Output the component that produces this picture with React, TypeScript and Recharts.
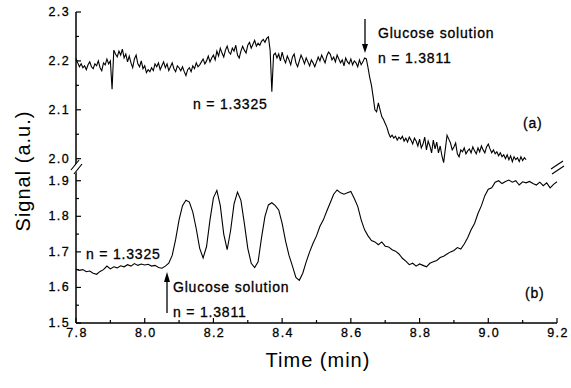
import { LineChart, Line, XAxis, YAxis } from "recharts";

const FONT = "'Liberation Sans', Arial, sans-serif";

// sampling grids of the two recordings (min)
const START = 7.8;
const STEP_A = 0.005;
const STEP_B = 0.01;

// (a) upper trace, 7.800 .. 9.110 min
const signalA = [
  2.205, 2.196, 2.188, 2.194, 2.186, 2.19, 2.182, 2.192, 2.198, 2.188,
  2.184, 2.194, 2.19, 2.2, 2.186, 2.18, 2.196, 2.192, 2.204, 2.194,
  2.2, 2.142, 2.222, 2.214, 2.208, 2.22, 2.212, 2.224, 2.206, 2.214,
  2.198, 2.21, 2.196, 2.186, 2.204, 2.212, 2.194, 2.188, 2.2, 2.184,
  2.19, 2.176, 2.182, 2.178, 2.186, 2.18, 2.194, 2.188, 2.196, 2.182,
  2.19, 2.198, 2.186, 2.194, 2.18, 2.188, 2.196, 2.184, 2.178, 2.19,
  2.186, 2.18, 2.188, 2.178, 2.17, 2.182, 2.186, 2.178, 2.19, 2.184,
  2.196, 2.188, 2.192, 2.198, 2.204, 2.194, 2.2, 2.21, 2.198, 2.206,
  2.212, 2.202, 2.22, 2.21, 2.226, 2.216, 2.208, 2.222, 2.23, 2.218,
  2.214, 2.226, 2.22, 2.232, 2.212, 2.206, 2.22, 2.23, 2.222, 2.216,
  2.232, 2.238, 2.226, 2.234, 2.242, 2.23, 2.236, 2.232, 2.24, 2.244,
  2.238, 2.246, 2.249, 2.222, 2.137, 2.212, 2.216, 2.206, 2.214, 2.2,
  2.218, 2.204, 2.196, 2.21, 2.202, 2.192, 2.208, 2.214, 2.196, 2.188,
  2.2, 2.212, 2.204, 2.194, 2.206, 2.198, 2.19, 2.202, 2.196, 2.188,
  2.198, 2.208, 2.2, 2.212, 2.204, 2.196, 2.21, 2.218, 2.214, 2.202,
  2.208, 2.198, 2.212, 2.204, 2.196, 2.202, 2.19, 2.206, 2.198, 2.194,
  2.204, 2.192, 2.2, 2.196, 2.188, 2.202, 2.192, 2.198, 2.206, 2.204,
  2.186, 2.166, 2.15, 2.126, 2.1, 2.096, 2.114, 2.1, 2.086, 2.08,
  2.072, 2.064, 2.052, 2.044, 2.048, 2.042, 2.046, 2.038, 2.044, 2.04,
  2.046, 2.036, 2.042, 2.034, 2.044, 2.038, 2.03, 2.042, 2.036, 2.026,
  2.04, 2.022, 2.03, 2.044, 2.018, 2.036, 2.026, 2.012, 2.038, 2.02,
  2.034, 2.012, 2.026, 2.006, 1.992, 2.02, 2.048, 2.04, 2.032, 2.018,
  2.024, 2.032, 2.01, 2.004, 2.018, 2.014, 2.022, 2.01, 2.016, 2.02,
  2.012, 2.024, 2.016, 2.01, 2.022, 2.014, 2.026, 2.018, 2.012, 2.024,
  2.03, 2.02, 2.012, 2.018, 2.01, 2.014, 2.006, 2.012, 2.004, 2.008,
  2.0, 2.008, 1.998, 2.006, 1.994, 2.004, 1.998, 2.002, 1.994, 2.004,
  1.996, 2.002, 1.998,
];

// (b) lower trace, 7.80 .. 9.20 min
const signalB = [
  1.652, 1.648, 1.65, 1.644, 1.646, 1.64, 1.637, 1.645, 1.65, 1.66,
  1.652, 1.658, 1.655, 1.661, 1.658, 1.664, 1.66, 1.667, 1.662, 1.666,
  1.663, 1.665, 1.66, 1.662, 1.656, 1.654, 1.66, 1.668, 1.69, 1.735,
  1.79, 1.83, 1.845, 1.84, 1.812, 1.765, 1.71, 1.683, 1.715, 1.79,
  1.852, 1.873, 1.83, 1.75, 1.706, 1.76, 1.835, 1.868, 1.845, 1.78,
  1.71, 1.668, 1.656, 1.672, 1.74, 1.8, 1.832, 1.838, 1.83, 1.818,
  1.78, 1.73, 1.69, 1.66, 1.628, 1.62, 1.64, 1.672, 1.7, 1.724,
  1.745, 1.772, 1.79, 1.815, 1.838, 1.862, 1.874, 1.866, 1.862, 1.866,
  1.87, 1.85, 1.828, 1.79, 1.762, 1.745, 1.732, 1.728, 1.72, 1.728,
  1.716, 1.714, 1.706, 1.702, 1.694, 1.682, 1.674, 1.664, 1.668, 1.66,
  1.666, 1.662, 1.658, 1.668, 1.672, 1.676, 1.684, 1.688, 1.694, 1.7,
  1.704, 1.712, 1.708, 1.722, 1.74, 1.762, 1.78, 1.808, 1.83, 1.858,
  1.876, 1.88, 1.896, 1.9, 1.892, 1.898, 1.902, 1.896, 1.9, 1.888,
  1.897, 1.894, 1.898, 1.892, 1.888, 1.896, 1.886, 1.894, 1.88, 1.89,
  1.897,
];

const xTicks = [7.8, 7.9, 8.0, 8.1, 8.2, 8.3, 8.4, 8.5, 8.6, 8.7, 8.8, 8.9, 9.0, 9.1, 9.2];
const yTicksA = [2.0, 2.05, 2.1, 2.15, 2.2, 2.25, 2.3];
const yTicksB = [1.5, 1.55, 1.6, 1.65, 1.7, 1.75, 1.8, 1.85, 1.9];

const domainA = [1.983, 2.3];
const domainB = [1.5, 1.933];

const dataA = signalA.map((v, i) => ({ t: +(START + i * STEP_A).toFixed(3), v }));
const dataB = signalB.map((v, i) => ({ t: +(START + i * STEP_B).toFixed(3), v }));

const isMajor = (v: number, every: number) =>
  Math.abs(Math.round(v / every) * every - v) < 1e-6;

// scanned print looks a bit heavy, so give the text a hairline outline
const ink = { fill: "#000", stroke: "#000", strokeWidth: 0.3 };
const tickText = { fontFamily: FONT, fontSize: 12.5, letterSpacing: 1.4, ...ink };

const YTick = (props: any) => {
  const { x, y, payload } = props;
  const major = isMajor(payload.value, 0.1);
  return (
    <g>
      <line x1={x} x2={x + (major ? 5 : 3)} y1={y} y2={y} stroke="#000" strokeWidth={1.2} />
      {major && (
        <text x={x - 6} y={y} textAnchor="end" dominantBaseline="central" {...tickText}>
          {payload.value.toFixed(1)}
        </text>
      )}
    </g>
  );
};

const XTick = (props: any) => {
  const { x, y, payload } = props;
  const major = isMajor(payload.value - 7.8, 0.2);
  return (
    <g>
      <line x1={x} x2={x} y1={y} y2={y - (major ? 5 : 3)} stroke="#000" strokeWidth={1.2} />
      {major && (
        <text x={x + 1} y={y + 13.5} textAnchor="middle" {...tickText}>
          {payload.value.toFixed(1)}
        </text>
      )}
    </g>
  );
};

const axisLine = { stroke: "#000", strokeWidth: 1.5 };
const label = { fontFamily: FONT, fontSize: 14, letterSpacing: 0.8, ...ink };
const title = { fontFamily: FONT, fontSize: 20, letterSpacing: 1, fill: "#000" };

export default function App() {
  return (
    <div style={{ position: "fixed", left: 0, top: 0, width: 571, height: 388, background: "#fff" }}>
      <div style={{ position: "absolute", left: 0, top: 0 }}>
        <LineChart width={571} height={167} data={dataA} margin={{ top: 12, right: 14, bottom: 0, left: 0 }}>
          <XAxis dataKey="t" type="number" domain={[7.8, 9.2]} ticks={xTicks} height={0}
            tick={false} tickLine={false} axisLine={axisLine} />
          <XAxis xAxisId="top" orientation="top" dataKey="t" type="number" domain={[7.8, 9.2]}
            height={0} tick={false} tickLine={false} axisLine={axisLine} />
          <YAxis type="number" domain={domainA} ticks={yTicksA} width={76} interval={0}
            tickSize={0} tickMargin={0} tickLine={false} tick={YTick} axisLine={axisLine} allowDataOverflow />
          <YAxis yAxisId="r" orientation="right" type="number" domain={domainA} width={0}
            tick={false} tickLine={false} axisLine={axisLine} />
          <Line dataKey="v" type="linear" stroke="#000" strokeWidth={1.1} dot={false} isAnimationActive={false} />
        </LineChart>
      </div>
      <div style={{ position: "absolute", left: 0, top: 0 }}>
        <LineChart width={571} height={388} data={dataB} margin={{ top: 169, right: 14, bottom: 0, left: 0 }}>
          <XAxis dataKey="t" type="number" domain={[7.8, 9.2]} ticks={xTicks} height={65} interval={0}
            tickSize={0} tickMargin={0} tickLine={false} tick={XTick} axisLine={axisLine} />
          <XAxis xAxisId="top" orientation="top" dataKey="t" type="number" domain={[7.8, 9.2]}
            height={0} tick={false} tickLine={false} axisLine={axisLine} />
          <YAxis type="number" domain={domainB} ticks={yTicksB} width={76} interval={0}
            tickSize={0} tickMargin={0} tickLine={false} tick={YTick} axisLine={axisLine} allowDataOverflow />
          <YAxis yAxisId="r" orientation="right" type="number" domain={domainB} width={0}
            tick={false} tickLine={false} axisLine={axisLine} />
          <Line dataKey="v" type="linear" stroke="#000" strokeWidth={1.1} dot={false} isAnimationActive={false} />
        </LineChart>
      </div>
      <svg width={571} height={388} style={{ position: "absolute", left: 0, top: 0, pointerEvents: "none" }}>
        {/* axis break marks */}
        <polygon points="71,171 79,160 83,163 75,174" fill="#fff" />
        <line x1={71} y1={170} x2={79} y2={160} stroke="#000" strokeWidth={1.2} />
        <line x1={74} y1={174} x2={82} y2={164} stroke="#000" strokeWidth={1.2} />
        <polygon points="551,169 562,161 563,166 552,174" fill="#fff" />
        <line x1={551} y1={169} x2={563} y2={161} stroke="#000" strokeWidth={1.2} />
        <line x1={552} y1={174} x2={564} y2={166} stroke="#000" strokeWidth={1.2} />

        {/* panel (a) annotations */}
        <line x1={365} y1={19} x2={365} y2={46} stroke="#000" strokeWidth={1.3} />
        <polygon points="362,44 368,44 365,53" fill="#000" />
        <text x={378} y={33} dominantBaseline="central" {...label}>Glucose solution</text>
        <text x={378} y={58} dominantBaseline="central" {...label}>n = 1.3811</text>
        <text x={193} y={104} dominantBaseline="central" {...label}>n = 1.3325</text>
        <text x={523} y={123} dominantBaseline="central" {...label}>(a)</text>

        {/* panel (b) annotations */}
        <text x={86} y={254} dominantBaseline="central" {...label}>n = 1.3325</text>
        <line x1={167} y1={313} x2={167} y2={280} stroke="#000" strokeWidth={1.3} />
        <polygon points="164,282 170,282 167,272" fill="#000" />
        <text x={173} y={287} dominantBaseline="central" {...label}>Glucose solution</text>
        <text x={173} y={312} dominantBaseline="central" {...label}>n = 1.3811</text>
        <text x={525} y={293} dominantBaseline="central" {...label}>(b)</text>

        {/* axis titles */}
        <text x={23} y={171} textAnchor="middle" dominantBaseline="central" transform="rotate(-90 23 171)"
          {...title}>Signal (a.u.)</text>
        <text x={318} y={360} textAnchor="middle" dominantBaseline="central" {...title}>Time (min)</text>
      </svg>
    </div>
  );
}
